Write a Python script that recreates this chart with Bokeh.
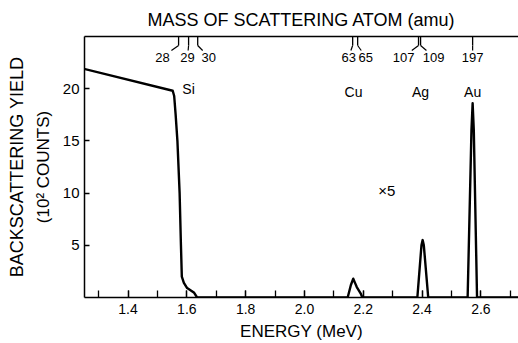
from bokeh.plotting import figure
from bokeh.models import Range1d, LinearAxis, FixedTicker, SingleIntervalTicker, Title, PrintfTickFormatter
from bokeh.core.properties import value
from bokeh.embed import file_html
from bokeh.resources import INLINE

# ---- data (energy in MeV, backscattering yield in 10^2 counts) ----
energy = [1.25, 1.552, 1.557, 1.562, 1.568, 1.5755, 1.580, 1.583, 1.590, 1.601, 1.615, 1.625, 1.635,
          2.147, 2.158, 2.166, 2.172, 2.178, 2.191, 2.197,
          2.384, 2.398, 2.402, 2.406, 2.421,
          2.555, 2.568, 2.572, 2.576, 2.587, 2.75]
counts = [21.9, 19.8, 19.3, 17.5, 15.0, 10.0, 5.0, 2.0, 1.4, 0.9, 0.65, 0.45, 0.0,
          0.0, 1.2, 1.8, 1.4, 1.0, 0.4, 0.0,
          0.0, 5.0, 5.5, 5.0, 0.0,
          0.0, 16.0, 18.6, 16.0, 0.0, 0.0]

masses = ["28", "29", "30", "63", "65", "107", "109", "197"]
mass_energy = [1.572, 1.606, 1.637, 2.164, 2.181, 2.388, 2.395, 2.572]

elements = ["Si", "Cu", "Ag", "Au"]
element_energy = [1.606, 2.167, 2.395, 2.572]

yield_ticks = [5, 10, 15, 20]
scale_note = "×5"
scale_note_energy = 2.280
scale_note_yield = 10.25

# ---- layout helpers (pixels) ----
X0, X1 = 1.252, 2.728
Y0, Y1 = 0, 25
FRAME_W, FRAME_H = 434, 261
px_x = (X1 - X0) / FRAME_W
px_y = (Y1 - Y0) / FRAME_H
label_dx = [-16, -1, 11, -4, 8, -15, 13, 0]
element_dy = [-3, 0, 0, 0]

FONT = "Liberation Sans"

p = figure(width=518, height=343, x_range=Range1d(X0, X1), y_range=Range1d(Y0, Y1),
           x_axis_type=None, y_axis_type=None, output_backend="svg", toolbar_location=None,
           min_border_left=84, min_border_right=0, min_border_top=36, min_border_bottom=46,
           title="MASS OF SCATTERING ATOM (amu)")
p.outline_line_color = None
p.background_fill_color = "white"
p.border_fill_color = "white"
p.title.align = "center"
p.title.text_font = FONT
p.title.text_font_size = "18px"
p.title.text_font_style = "normal"
p.title.text_color = "black"
p.title.standoff = 14

bottom = LinearAxis(ticker=SingleIntervalTicker(interval=0.2, num_minor_ticks=2),
                    formatter=PrintfTickFormatter(format="%.1f"), axis_label="ENERGY (MeV)")
left = LinearAxis(ticker=FixedTicker(ticks=yield_ticks), axis_label="(10² COUNTS)")
top = LinearAxis(ticker=FixedTicker(ticks=[]))
for ax in (bottom, left, top):
    ax.axis_line_color = "black"
    ax.axis_line_width = 1.5
    ax.major_tick_line_color = "black"
    ax.minor_tick_line_color = "black"
    ax.major_tick_line_width = 1.3
    ax.minor_tick_line_width = 1.3
    ax.major_tick_out = 0
    ax.minor_tick_out = 0
    ax.major_label_text_font = FONT
    ax.major_label_text_font_size = "15px"
    ax.major_label_text_color = "black"
    ax.axis_label_text_font = FONT
    ax.axis_label_text_font_size = "17px"
    ax.axis_label_text_font_style = "normal"
    ax.axis_label_text_color = "black"
bottom.major_tick_in = 7
bottom.minor_tick_in = 7
bottom.major_label_text_font_size = "14px"
bottom.major_label_standoff = 6
bottom.axis_label_standoff = 5
left.major_tick_in = 5
left.major_label_standoff = 5
left.axis_label_standoff = 7
top.major_tick_in = 0
top.major_label_standoff = 0
p.add_layout(bottom, "below")
p.add_layout(left, "left")
p.add_layout(top, "above")
p.add_layout(Title(text="BACKSCATTERING YIELD", align="center", text_font=FONT, standoff=8,
                   text_font_size="18px", text_font_style="normal", text_color="black"), "left")

# spectrum
p.line(energy, counts, line_color="black", line_width=2.4, line_join="round")

# mass ticks, leaders and labels
y_tick_end = Y1 - 9 * px_y
y_lead_end = Y1 - 14 * px_y
y_label = Y1 - 21 * px_y
p.segment(mass_energy, [Y1] * len(mass_energy), mass_energy, [y_tick_end] * len(mass_energy),
          line_color="black", line_width=1.3)
lx1 = [e + 0.45 * dx * px_x for e, dx in zip(mass_energy, label_dx)]
tx = [e + dx * px_x for e, dx in zip(mass_energy, label_dx)]
p.segment(mass_energy, [y_tick_end] * len(mass_energy), lx1, [y_lead_end] * len(mass_energy),
          line_color="black", line_width=1.2)
p.text(tx, [y_label] * len(tx), text=masses, text_font=value(FONT), text_font_size="13px",
       text_align="center", text_baseline="middle", text_color="black")

# element labels
ey = [19.7 - d * px_y for d in element_dy]
p.text(element_energy, ey, text=elements, text_font=value(FONT), text_font_size="14px",
       text_align="center", text_baseline="middle", text_color="black")
p.text([scale_note_energy], [scale_note_yield], text=[scale_note], text_font=value(FONT),
       text_font_size="15px", text_align="center", text_baseline="middle", text_color="black")

open("out.html", "w").write(file_html(p, INLINE))
